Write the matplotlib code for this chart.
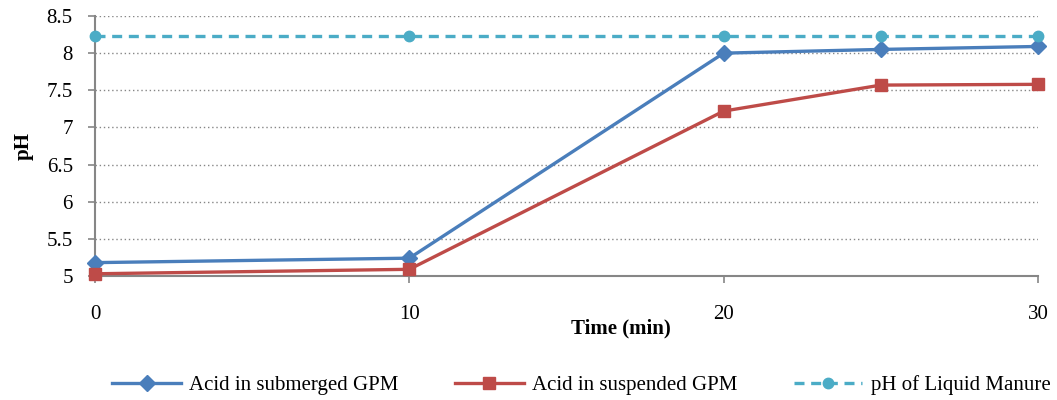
import matplotlib
matplotlib.use("Agg")
import matplotlib.pyplot as plt

plt.rcParams['font.family'] = ['Liberation Serif', 'DejaVu Serif']

time_min = [0, 10, 20, 25, 30]
ph_submerged = [5.18, 5.24, 8.00, 8.05, 8.09]
ph_suspended = [5.03, 5.09, 7.22, 7.57, 7.58]
ph_manure = [8.23, 8.23, 8.23, 8.23, 8.23]

x_ticks = [0, 10, 20, 30]
y_ticks = [5, 5.5, 6, 6.5, 7, 7.5, 8, 8.5]
y_labels = ['5', '5.5', '6', '6.5', '7', '7.5', '8', '8.5']

BLUE = '#4a7ebb'
RED = '#be4b48'
CYAN = '#4bacc6'
GREY = '#868686'
FS = 15

fig = plt.figure(figsize=(10.57, 4.0), dpi=100)
ax = fig.add_axes([95 / 1057, 1 - 276 / 400, (1038 - 95) / 1057, (276 - 16) / 400])

ax.plot(time_min, ph_submerged, color=BLUE, lw=2.4, marker='D', ms=8,
        label='Acid in submerged GPM', zorder=3, clip_on=False)
ax.plot(time_min, ph_suspended, color=RED, lw=2.4, marker='s', ms=8.5,
        label='Acid in suspended GPM', zorder=3, clip_on=False)
ax.plot(time_min, ph_manure, color=CYAN, lw=2.4, ls=(0, (3, 2)), marker='o', ms=7.5,
        label='pH of Liquid Manure', zorder=3, clip_on=False)

ax.set_xlim(0, 30)
ax.set_ylim(5, 8.5)
ax.set_xticks(x_ticks)
ax.set_xticklabels([str(t) for t in x_ticks])
ax.set_yticks(y_ticks)
ax.set_yticklabels(y_labels)
ax.grid(axis='y', color=GREY, ls=(0, (1, 2)), lw=1)
ax.set_axisbelow(True)

for s in ['top', 'right']:
    ax.spines[s].set_visible(False)
for s in ['left', 'bottom']:
    ax.spines[s].set_color(GREY)
    ax.spines[s].set_linewidth(1.5)
    ax.spines[s].set_zorder(2)

ax.tick_params(axis='both', colors=GREY, labelcolor='black', labelsize=FS,
               length=5, width=1.2, direction='out')
ax.tick_params(axis='x', pad=16)
ax.tick_params(axis='y', pad=11)

ax.set_ylabel('pH', fontsize=FS, fontweight='bold', labelpad=9)
fig.text(621 / 1057, 1 - 328 / 400, 'Time (min)', fontsize=FS, fontweight='bold',
         ha='center', va='center')

fig.legend(loc='center', bbox_to_anchor=(0.55, 1 - 385 / 400), ncol=3, frameon=False,
           fontsize=FS, handlelength=3.3, columnspacing=2.7, handletextpad=0.4)

fig.savefig('out.png', dpi=100)
